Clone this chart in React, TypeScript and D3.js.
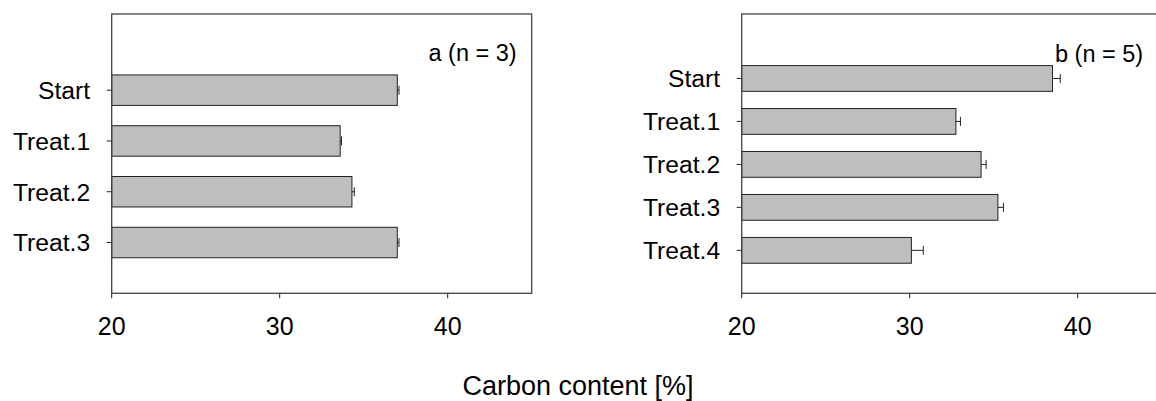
import React from "react";
import * as d3 from "d3";

const leftCategories = ["Start", "Treat.1", "Treat.2", "Treat.3"];
const leftValues = [37.0, 33.6, 34.3, 37.0];
const leftErrors = [0.1, 0.08, 0.14, 0.1];
const leftLabel = "a (n = 3)";

const rightCategories = ["Start", "Treat.1", "Treat.2", "Treat.3", "Treat.4"];
const rightValues = [38.5, 32.75, 34.25, 35.25, 30.1];
const rightErrors = [0.46, 0.27, 0.3, 0.33, 0.71];
const rightLabel = "b (n = 5)";

const xTicks = [20, 30, 40];
const xDomain: [number, number] = [20, 45];
const axisTitle = "Carbon content [%]";

const FONT = "'Liberation Sans', Arial, Helvetica, sans-serif";

type PanelProps = {
  left: number;
  categories: string[];
  values: number[];
  errors: number[];
  label: string;
  labelX: number;
  labelY: number;
};

function Panel({ left, categories, values, errors, label, labelX, labelY }: PanelProps) {
  const top = 14;
  const bottom = 293.3;
  const width = 420;
  const x = d3.scaleLinear().domain(xDomain).range([left, left + width]);
  const n = categories.length;
  const y = d3.scaleLinear().domain([-1.5, n]).range([top, bottom]);
  const step = y(1) - y(0);
  const barH = step * 0.6;
  const cap = 4.5;
  return (
    <g>
      {categories.map((c, i) => {
        const cy = y(i);
        const v = values[i];
        const e = errors[i];
        return (
          <g key={c}>
            <rect
              x={x(xDomain[0])}
              y={cy - barH / 2}
              width={x(v) - x(xDomain[0])}
              height={barH}
              fill="#bebebe"
              stroke="#222"
              strokeWidth={1}
            />
            <line x1={x(v)} x2={x(v + e)} y1={cy} y2={cy} stroke="#222" strokeWidth={1} />
            <line x1={x(v + e)} x2={x(v + e)} y1={cy - cap} y2={cy + cap} stroke="#222" strokeWidth={1} />
            <line x1={left - 5} x2={left} y1={cy} y2={cy} stroke="#222" strokeWidth={1} />
            <text
              x={left - 21.5}
              y={cy}
              dy="0.36em"
              textAnchor="end"
              fontFamily={FONT}
              fontSize={24.7}
              fill="#000"
            >
              {c}
            </text>
          </g>
        );
      })}
      <rect
        x={left}
        y={top}
        width={width}
        height={bottom - top}
        fill="none"
        stroke="#444"
        strokeWidth={1.3}
      />
      {xTicks.map((t) => (
        <g key={t}>
          <line x1={x(t)} x2={x(t)} y1={bottom} y2={bottom + 5} stroke="#222" strokeWidth={1} />
          <text
            x={x(t)}
            y={335}
            textAnchor="middle"
            fontFamily={FONT}
            fontSize={25}
            fill="#000"
          >
            {t}
          </text>
        </g>
      ))}
      <text x={labelX} y={labelY} fontFamily={FONT} fontSize={23.5} fill="#000">
        {label}
      </text>
    </g>
  );
}

export default function App() {
  return (
    <svg width={1156} height={401} style={{ position: "absolute", left: 0, top: 0, background: "#fff" }}>
      <rect x={0} y={0} width={1156} height={401} fill="#fff" />
      <Panel
        left={111.7}
        categories={leftCategories}
        values={leftValues}
        errors={leftErrors}
        label={leftLabel}
        labelX={428.5}
        labelY={61}
      />
      <Panel
        left={741.7}
        categories={rightCategories}
        values={rightValues}
        errors={rightErrors}
        label={rightLabel}
        labelX={1055}
        labelY={62}
      />
      <text x={578} y={395} textAnchor="middle" fontFamily={FONT} fontSize={27} fill="#000">
        {axisTitle}
      </text>
    </svg>
  );
}
